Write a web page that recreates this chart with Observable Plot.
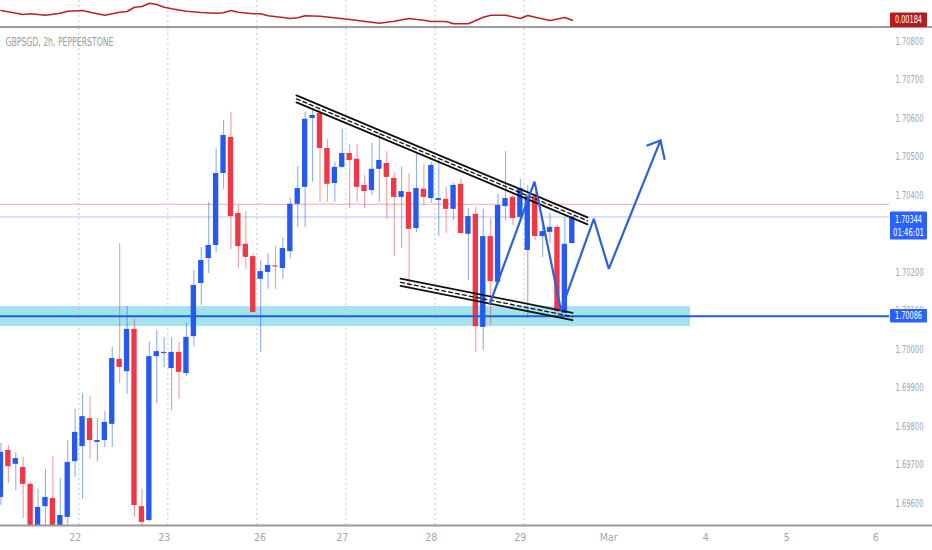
<!DOCTYPE html>
<html><head><meta charset="utf-8">
<script src="https://cdn.jsdelivr.net/npm/d3@7"></script>
<script src="https://cdn.jsdelivr.net/npm/@observablehq/plot@0.6"></script>
<style>
html,body{margin:0;padding:0;background:#fff;width:932px;height:550px;overflow:hidden;}
#ind{height:26px;border-bottom:2px solid #9b9b9b;}
svg{display:block;}
</style></head><body>
<div id="ind"></div><div id="main"></div>
<script>
// ---------- data ----------
const title = "GBPSGD, 2h, PEPPERSTONE";
const openP = [
1.69615,1.69737,1.69701,1.69693,1.69649,1.69529,1.69591,1.69612,1.69534,1.69563,
1.69708,1.69747,1.69820,1.69758,1.69763,1.69805,1.69974,1.69942,1.70052,1.69591,
1.69555,1.69981,1.69989,1.69950,1.69992,1.69937,1.70033,1.70171,1.70236,1.70270,
1.70457,1.70551,1.70353,1.70273,1.70241,1.70182,1.70200,1.70217,1.70210,1.70254,
1.70377,1.70421,1.70600,1.70613,1.70522,1.70431,1.70473,1.70509,1.70494,1.70426,
1.70413,1.70468,1.70483,1.70444,1.70395,1.70408,1.70314,1.70416,1.70392,1.70387,
1.70390,1.70364,1.70429,1.70299,1.70351,1.70057,1.70293,1.70174,1.70371,1.70395,
1.70343,1.70257,1.70397,1.70293,1.70304,1.70317,1.70093,1.70275];
const closeP = [
1.69732,1.69695,1.69716,1.69649,1.69542,1.69589,1.69615,1.69529,1.69568,1.69706,
1.69784,1.69825,1.69763,1.69763,1.69810,1.69976,1.69953,1.70052,1.69594,1.69550,
1.69981,1.69994,1.69992,1.69992,1.69940,1.70031,1.70166,1.70231,1.70270,1.70457,
1.70556,1.70345,1.70267,1.70239,1.70096,1.70202,1.70218,1.70214,1.70262,1.70377,
1.70418,1.70598,1.70608,1.70522,1.70429,1.70473,1.70509,1.70491,1.70421,1.70410,
1.70468,1.70491,1.70447,1.70395,1.70410,1.70312,1.70418,1.70395,1.70478,1.70392,
1.70364,1.70426,1.70301,1.70345,1.70059,1.70293,1.70176,1.70374,1.70392,1.70340,
1.70418,1.70397,1.70293,1.70306,1.70317,1.70098,1.70273,1.70344];
const highP = [
1.69755,1.69750,1.69732,1.69719,1.69654,1.69636,1.69688,1.69721,1.69664,1.69763,
1.69844,1.69885,1.69877,1.69820,1.69838,1.70005,1.70275,1.70111,1.70078,1.69636,
1.70020,1.70049,1.70031,1.70031,1.70018,1.70067,1.70205,1.70265,1.70382,1.70520,
1.70595,1.70616,1.70374,1.70358,1.70249,1.70231,1.70249,1.70267,1.70291,1.70392,
1.70475,1.70616,1.70621,1.70624,1.70546,1.70486,1.70572,1.70533,1.70533,1.70452,
1.70535,1.70561,1.70514,1.70460,1.70473,1.70457,1.70509,1.70481,1.70486,1.70491,
1.70421,1.70431,1.70442,1.70366,1.70369,1.70364,1.70340,1.70403,1.70514,1.70400,
1.70442,1.70426,1.70408,1.70335,1.70353,1.70322,1.70343,1.70344];
const lowP = [
1.69594,1.69651,1.69633,1.69560,1.69503,1.69516,1.69529,1.69516,1.69529,1.69542,
1.69667,1.69610,1.69716,1.69708,1.69745,1.69745,1.69911,1.69883,1.69563,1.69534,
1.69552,1.69859,1.69953,1.69841,1.69870,1.69929,1.70007,1.70114,1.70197,1.70252,
1.70416,1.70260,1.70210,1.70208,1.70093,1.69992,1.70156,1.70156,1.70182,1.70236,
1.70317,1.70317,1.70434,1.70382,1.70382,1.70382,1.70470,1.70366,1.70382,1.70366,
1.70400,1.70382,1.70338,1.70241,1.70262,1.70161,1.70304,1.70374,1.70379,1.70293,
1.70301,1.70335,1.70299,1.70179,1.69992,1.69997,1.70062,1.70166,1.70335,1.70322,
1.70335,1.70080,1.70283,1.70239,1.70275,1.70093,1.70091,1.70273];

// indicator pane (value by bar index)
const indIdx = [0,3,4,6,8,9,11,12,14,16,17,18,19,20,21,22,23,25,27,29,30,31,32,34,35,36,38,39,40,41,43,47,51,53,55,57,58,60,61,63,65,66,68,70,71,72,74,76,77];
const indVal = [0.00223,0.00207,0.00210,0.00204,0.00212,0.00220,0.00223,0.00216,0.00204,0.00216,
0.00219,0.00236,0.00239,0.00252,0.00247,0.00236,0.00230,0.00220,0.00215,0.00212,
0.00214,0.00223,0.00216,0.00210,0.00210,0.00202,0.00195,0.00191,0.00194,0.00202,
0.00200,0.00187,0.00172,0.00180,0.00191,0.00184,0.00179,0.00179,0.00170,0.00170,
0.00196,0.00204,0.00204,0.00191,0.00203,0.00196,0.00183,0.00195,0.00184];
const indLast = "0.00184";

// axes (1.70300 is hidden behind the last-price label in the reference)
const priceTicks = [1.696,1.697,1.698,1.699,1.700,1.701,1.702,1.704,1.705,1.706,1.707,1.708];
const dayGridIdx = [10.5,22.5,34.5,46.5,58.5,70.5];
const dayLabels = ["22","23","26","27","28","29","Mar","4","5","6"];
const dayLabelIdx = [10,22,34.9,46,58,70,81.9,95,105.9,117.9];

// price lines
const lastPrice = 1.70344;
const lastCountdown = "01:46:01";
const askPrice = 1.70377;
const levelPrice = 1.70086;

// drawings (bar index, price)
const zoneIdx = [-1, 92.93];
const zonePrice = [1.70059, 1.70111];
const upperIdx = [39.83, 79.05];
const upperTop = [1.70660, 1.70343];
const upperMid = [1.70651, 1.70334];
const upperBot = [1.70642, 1.70325];
const lowerIdx = [53.85, 77.03];
const lowerTop = [1.70184, 1.70095];
const lowerMid = [1.70174, 1.70085];
const lowerBot = [1.70165, 1.70076];
const pathIdx = [65.88, 71.91, 75.48, 79.90, 81.92, 88.89];
const pathPrice = [1.70118, 1.70436, 1.70101, 1.70339, 1.70209, 1.70543];
const headIdx = [87.10, 88.89, 89.43];
const headPrice = [1.70530, 1.70543, 1.70495];

// ---------- build ----------
const FONT = '"Liberation Sans Narrow","DejaVu Sans Condensed","Roboto Condensed",Roboto,sans-serif';
const UP = "#2659f0", DOWN = "#f23645";
const candles = openP.map((o, i) => ({i, open: o, close: closeP[i], high: highP[i], low: lowP[i], up: closeP[i] >= o}));
const pts = (xs, ys) => xs.map((x, k) => ({x, y: ys[k]}));
const XDOM = [-0.06, 119.75];

const ind = Plot.plot({
  width: 932, height: 26,
  marginTop: 0, marginLeft: 0, marginRight: 43, marginBottom: 0,
  x: {domain: XDOM, axis: null},
  y: {domain: [0.001588, 0.002628], axis: null},
  style: {background: "#fff", overflow: "visible"},
  marks: [
    Plot.ruleX(dayGridIdx, {stroke: "#c3c6cc", strokeDasharray: "2,3"}),
    Plot.line(pts(indIdx, indVal), {x: "x", y: "y", stroke: "#b8222c", strokeWidth: 1.6})
  ]
});
document.getElementById("ind").appendChild(ind);

const main = Plot.plot({
  width: 932, height: 522,
  marginTop: 0, marginLeft: 0, marginRight: 43, marginBottom: 25,
  x: {domain: XDOM},
  y: {domain: [1.69542, 1.70834]},
  style: {fontFamily: FONT, fontSize: "10.5px", background: "#fff", overflow: "visible"},
  marks: [
    Plot.rect([0], {x1: () => zoneIdx[0], x2: () => zoneIdx[1], y1: () => zonePrice[0], y2: () => zonePrice[1], fill: "#a3e3ee", clip: true}),
    Plot.ruleX(dayGridIdx, {stroke: "#c3c6cc", strokeDasharray: "2,3"}),
    Plot.ruleY([askPrice], {stroke: "#f6a9af", strokeWidth: 1}),
    Plot.ruleY([lastPrice], {stroke: "#b3c5f6", strokeWidth: 1}),
    Plot.ruleX(candles, {x: "i", y1: "low", y2: "high", stroke: d => d.up ? UP : DOWN, strokeOpacity: 0.5, strokeWidth: 1.1, clip: true}),
    Plot.rect(candles, {x1: d => d.i - 0.36, x2: d => d.i + 0.36, y1: "open", y2: "close", fill: d => d.up ? UP : DOWN, clip: true}),
    Plot.ruleY([levelPrice], {stroke: "#1f5fd6", strokeWidth: 2}),
    Plot.line(pts(upperIdx, upperTop), {x: "x", y: "y", stroke: "#111", strokeWidth: 1.8}),
    Plot.line(pts(upperIdx, upperMid), {x: "x", y: "y", stroke: "#111", strokeWidth: 1.3, strokeDasharray: "4,3"}),
    Plot.line(pts(upperIdx, upperBot), {x: "x", y: "y", stroke: "#111", strokeWidth: 1.8}),
    Plot.line(pts(lowerIdx, lowerTop), {x: "x", y: "y", stroke: "#111", strokeWidth: 1.8}),
    Plot.line(pts(lowerIdx, lowerMid), {x: "x", y: "y", stroke: "#111", strokeWidth: 1.3, strokeDasharray: "4,3"}),
    Plot.line(pts(lowerIdx, lowerBot), {x: "x", y: "y", stroke: "#111", strokeWidth: 1.8}),
    Plot.line(pts(pathIdx, pathPrice), {x: "x", y: "y", stroke: "#2c60e2", strokeWidth: 2.2, strokeLinejoin: "miter"}),
    Plot.line(pts(headIdx, headPrice), {x: "x", y: "y", stroke: "#2c60e2", strokeWidth: 2.2}),
    Plot.text([title], {frameAnchor: "top-left", dx: 5, dy: 14, lineAnchor: "middle", textAnchor: "start", fill: "#9c9c9c", fontSize: 11.5, fontWeight: 500, className: "ttl"}),
    Plot.axisY(priceTicks, {anchor: "right", tickSize: 0, tickPadding: 6, tickFormat: d => d.toFixed(5), fill: "#a3a6ad", label: null, className: "yax"}),
    Plot.axisX(dayLabelIdx, {tickSize: 0, tickPadding: 8, tickFormat: d => dayLabels[dayLabelIdx.indexOf(d)], fill: "#a3a6ad", label: null})
  ]
});
document.getElementById("main").appendChild(main);

// condense text horizontally (narrow chart font) with a scale transform about its anchor
function condense(sel, target) {
  sel.each(function () {
    const b = this.getBBox();
    if (b.width <= target) return;
    const k = target / b.width;
    const anchor = getComputedStyle(this).textAnchor || this.getAttribute("text-anchor") || "start";
    const x0 = anchor === "middle" ? b.x + b.width / 2 : anchor === "end" ? b.x + b.width : b.x;
    const prev = this.getAttribute("transform") || "";
    this.setAttribute("transform", `${prev} translate(${x0},0) scale(${k},1) translate(${-x0},0)`.trim());
  });
}
const ms = d3.select(main);
condense(ms.selectAll(".yax text"), 28);
condense(ms.selectAll(".ttl text"), 108);

// bottom axis line and price boxes (placed through the plot's own scales)
const ys = main.scale("y"), xs = main.scale("x");
const right = xs.range[1];
ms.append("line").attr("x1", 0).attr("x2", 932).attr("y1", ys.range[0] + 0.5).attr("y2", ys.range[0] + 0.5)
  .attr("stroke", "#9b9b9b").attr("stroke-width", 2);

function box(sel, yTop, h, fill, lines, lineY, widths) {
  sel.append("rect").attr("x", right + 1).attr("y", yTop).attr("width", 37).attr("height", h).attr("fill", fill).attr("rx", 1);
  lines.forEach((t, k) => {
    const tx = sel.append("text").attr("x", right + 19.5).attr("y", lineY[k]).attr("text-anchor", "middle")
      .attr("dominant-baseline", "central").attr("fill", "#fff")
      .style("font-family", FONT).style("font-size", "10.5px").text(t);
    condense(tx, widths[k]);
  });
}
const yl = ys.apply(lastPrice);
box(ms, yl - 5, 28, "#2962ff", [lastPrice.toFixed(5), lastCountdown], [yl + 2.7, yl + 16], [27, 31]);
const yv = ys.apply(levelPrice);
box(ms, yv - 6.8, 13.6, "#2962ff", [levelPrice.toFixed(5)], [yv], [27]);

const iys = ind.scale("y");
const yi = iys.apply(+indLast);
box(d3.select(ind), yi - 7.2, 14.4, "#b71c1c", [indLast], [yi], [27]);
</script>
</body></html>
